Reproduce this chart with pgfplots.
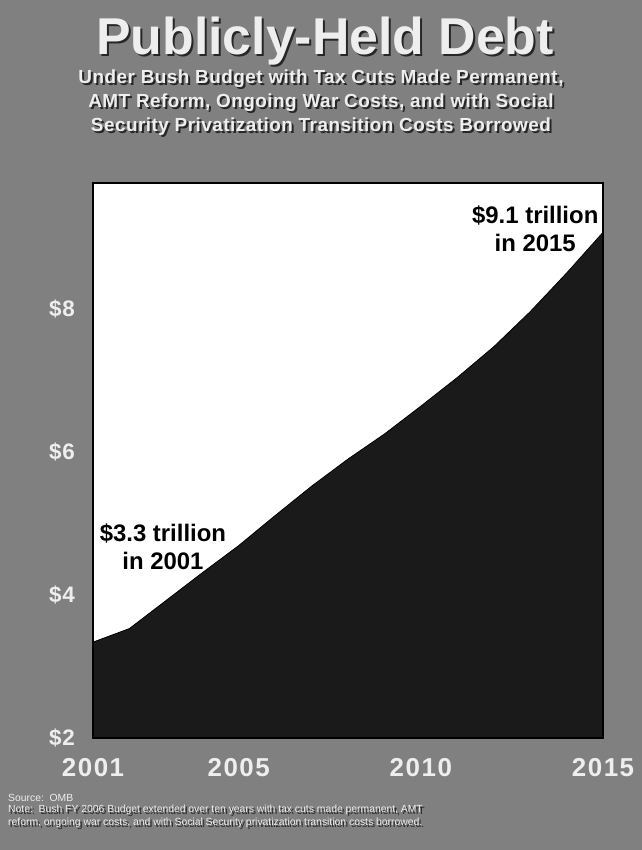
\documentclass[border=0pt]{standalone}
\usepackage{fontspec}
\setmainfont{Liberation Sans}
\usepackage{pgfplots}
\pgfplotsset{compat=1.18}
\definecolor{bg}{HTML}{808080}
\definecolor{txt}{HTML}{EEEEEE}
\definecolor{shadowc}{HTML}{262626}
\definecolor{area}{HTML}{1A1A1A}
\newcommand\shtext[4]{%
  \node[text=shadowc,#4] at (#1+2,#2-2) {#3};
  \node[text=txt,#4] at (#1,#2) {#3};}
\newcommand\subfont{\fontsize{19}{22}\selectfont\bfseries\addfontfeatures{LetterSpace=2.5}}
\begin{document}
\begin{tikzpicture}[x=1bp,y=1bp]
\fill[bg] (0,0) rectangle (642,850);
\useasboundingbox (0,0) rectangle (642,850);
% title
\shtext{325}{809}{Publicly-Held Debt}{font=\fontsize{52}{60}\selectfont\bfseries, inner sep=0pt}
\shtext{321}{771}{Under Bush Budget with Tax Cuts Made Permanent,}{font=\subfont, inner sep=0pt}
\shtext{321}{747}{AMT Reform, Ongoing War Costs, and with Social}{font=\subfont, inner sep=0pt}
\shtext{321}{723}{Security Privatization Transition Costs Borrowed}{font=\subfont, inner sep=0pt}
% footnotes
\node[anchor=west, text=txt, inner sep=0pt, font=\fontsize{10.4}{12}\selectfont] at (8,52.5) {Source:\ \ OMB};
\shtext{8}{40}{Note:\ \ Bush FY 2006 Budget extended over ten years with tax cuts made permanent, AMT}{anchor=west, inner sep=0pt, font=\fontsize{10.4}{12}\selectfont}
\shtext{8}{27.5}{reform, ongoing war costs, and with Social Security privatization transition costs borrowed.}{anchor=west, inner sep=0pt, font=\fontsize{10.4}{12}\selectfont}
\begin{axis}[
  at={(93bp,112bp)}, anchor=south west,
  scale only axis, width=510bp, height=555bp,
  xmin=2001, xmax=2015, ymin=2, ymax=9.76,
  axis background/.style={fill=white},
  axis line style={black, line width=2bp},
  axis on top,
  xtick={2001,2005,2010,2015},
  xticklabels={2001,2005,2010,2015},
  ytick={2,4,6,8},
  yticklabels={\$2,\$4,\$6,\$8},
  major tick length=0pt,
  xticklabel style={text=txt, font=\fontsize{26}{30}\selectfont\bfseries\addfontfeatures{LetterSpace=6}, anchor=center, yshift=-30bp, inner sep=0pt},
  yticklabel style={text=txt, font=\fontsize{22.5}{26}\selectfont\bfseries\addfontfeatures{LetterSpace=3}, anchor=east, xshift=-18bp, inner sep=0pt},
]
\addplot[fill=area, draw=black, line width=0.8bp] coordinates {
(2001,3.34) (2002,3.53) (2003,3.92) (2004,4.31) (2005,4.69) (2006,5.11)
(2007,5.52) (2008,5.90) (2009,6.25) (2010,6.64) (2011,7.04) (2012,7.47)
(2013,7.96) (2014,8.50) (2015,9.07)} \closedcycle;
\node[align=center, font=\fontsize{24}{28}\selectfont\bfseries, text=black, inner sep=0pt] at (axis cs:2002.92,4.67) {\$3.3 trillion\\in 2001};
\node[align=center, font=\fontsize{24}{28}\selectfont\bfseries, text=black, inner sep=0pt] at (axis cs:2013.14,9.12) {\$9.1 trillion\\in 2015};
\end{axis}
\end{tikzpicture}
\end{document}
